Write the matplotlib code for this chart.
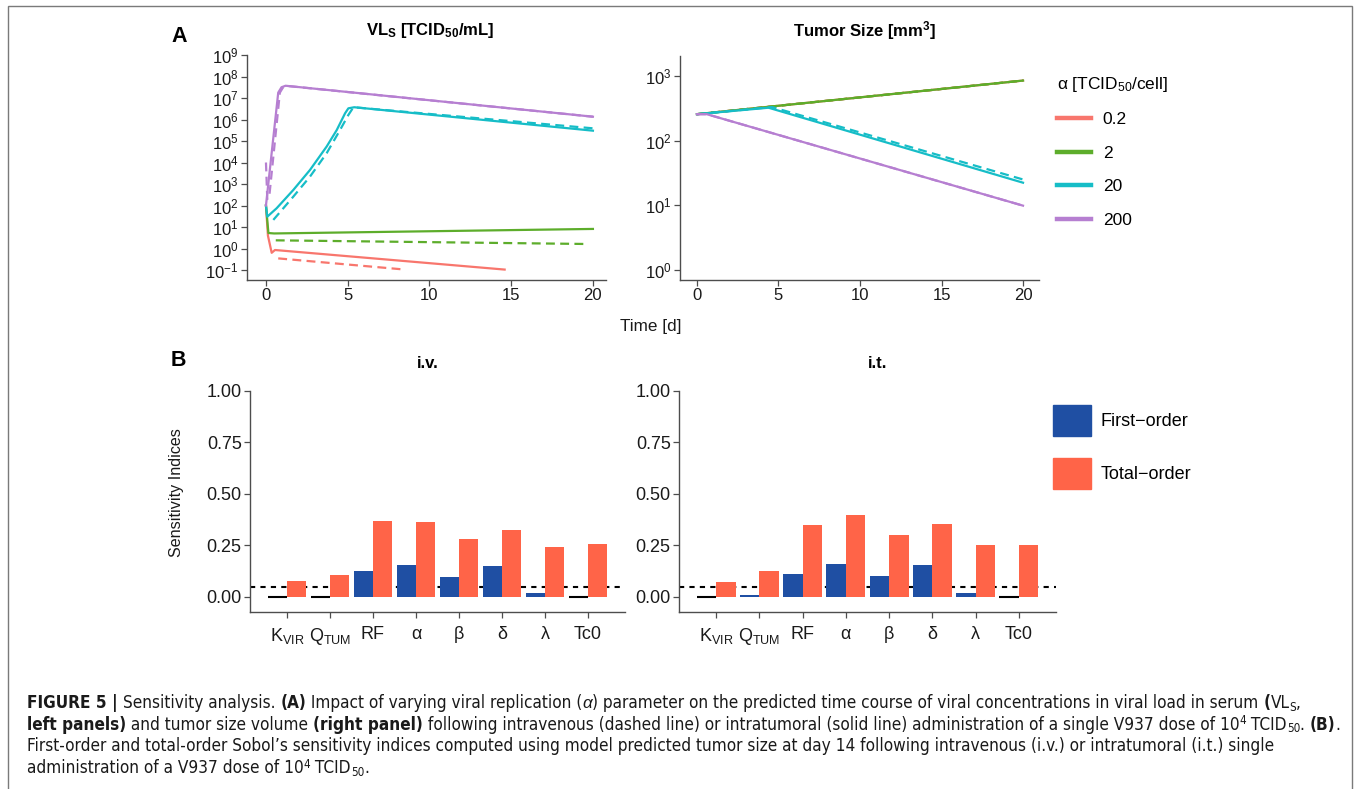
import numpy as np
import matplotlib
matplotlib.use("Agg")
import matplotlib.pyplot as plt
from matplotlib import font_manager
from matplotlib.font_manager import FontProperties
from matplotlib.lines import Line2D
from matplotlib.patches import Patch, Rectangle

W, H = 1356, 789

# ---- panel A data, values as log10 ----
alpha_labels = ["0.2", "2", "20", "200"]
colors = ["#F8766D", "#5DAD2B", "#16BDC7", "#B67FD1"]

# viral load in serum, solid = i.t., dashed = i.v.
vl_it_t = [
    [0, 0.12, 0.35, 0.55, 14.6],
    [0, 0.15, 0.5, 20],
    [0, 0.08, 0.65, 1.67, 2.69, 3.71, 4.33, 4.84, 5.04, 5.4, 20],
    [0, 0.75, 0.95, 1.2, 20],
]
vl_it_log = [
    [2.0, 0.6, -0.2, -0.07, -0.98],
    [2.0, 0.72, 0.70, 0.91],
    [2.0, 1.48, 1.87, 2.72, 3.65, 4.74, 5.51, 6.29, 6.52, 6.57, 5.48],
    [2.0, 7.25, 7.5, 7.57, 6.13],
]
vl_iv_t = [
    [0.75, 8.5],
    [0.6, 19.6],
    [0.45, 1.67, 2.69, 3.71, 4.53, 5.04, 5.35, 20],
    [0, 0.08, 0.2, 0.85, 1.05, 1.3, 20],
]
vl_iv_log = [
    [-0.46, -0.98],
    [0.38, 0.21],
    [1.33, 2.41, 3.34, 4.43, 5.51, 6.21, 6.57, 5.59],
    [4.0, 2.3, 2.4, 7.25, 7.5, 7.56, 6.13],
]

# tumor size, solid = i.t., dashed = i.v.
ts_it_t = [
    [0, 20],
    [0, 20],
    [0, 4.39, 20],
    [0, 0.6, 20],
]
ts_it_log = [
    [2.41, 2.93],
    [2.41, 2.93],
    [2.41, 2.51, 1.35],
    [2.41, 2.41, 0.995],
]
ts_iv_t = [
    [0, 20],
    [0, 20],
    [0, 4.6, 20],
    [0, 0.6, 20],
]
ts_iv_log = [
    [2.41, 2.93],
    [2.41, 2.93],
    [2.41, 2.52, 1.40],
    [2.41, 2.41, 0.995],
]

# ---- panel B data ----
params = [r"K$_\mathrm{VIR}$", r"Q$_\mathrm{TUM}$", "RF", "α", "β", "δ", "λ", "Tc0"]
iv_first = [0, 0, 0.127, 0.156, 0.095, 0.148, 0.021, 0]
iv_total = [0.077, 0.108, 0.369, 0.366, 0.282, 0.327, 0.244, 0.255]
it_first = [0, 0.01, 0.113, 0.16, 0.10, 0.156, 0.018, 0]
it_total = [0.071, 0.127, 0.35, 0.40, 0.30, 0.353, 0.253, 0.25]
threshold = 0.05

BLUE = "#1F4FA3"
ORANGE = "#FF6448"
AXC = "#4D4D4D"
TXT = "#1A1A1A"

plt.rcParams["font.family"] = ["Liberation Sans", "DejaVu Sans"]
plt.rcParams["mathtext.fontset"] = "custom"
plt.rcParams["mathtext.rm"] = "Liberation Sans"
plt.rcParams["mathtext.it"] = "Liberation Sans:italic"
plt.rcParams["mathtext.bf"] = "Liberation Sans:bold"
plt.rcParams["axes.unicode_minus"] = False


# pick a narrow font for the caption if one is installed
def caption_fonts():
    entries = font_manager.fontManager.ttflist
    narrow = {"condensed", "semi-condensed", "extra-condensed"}
    for e in entries:
        tag = e.name.lower()
        is_narrow = ("narrow" in tag or "condensed" in tag or str(e.stretch) in narrow)
        if is_narrow and e.style == "normal" and e.weight in (400, "normal", "regular"):
            fam = [x for x in entries if x.name == e.name and x.stretch == e.stretch]
            bold = [x for x in fam if x.style == "normal" and x.weight in (700, "bold")]
            ital = [x for x in fam if x.style == "italic" and x.weight in (400, "normal", "regular")]
            return {"n": e.fname,
                    "b": bold[0].fname if bold else e.fname,
                    "i": ital[0].fname if ital else None}
    return None


cap_files = caption_fonts()


def cap_prop(st, size):
    if cap_files is not None and cap_files.get(st if st in ("b", "i") else "n"):
        key = st if st in ("b", "i") else "n"
        return FontProperties(fname=cap_files[key], size=size)
    p = FontProperties(family="Liberation Sans", size=size)
    if st == "b":
        p.set_weight("bold")
    elif st == "i":
        p.set_style("italic")
    return p


def rect(l, t, r, b):
    return [l / W, 1 - b / H, (r - l) / W, (b - t) / H]


def fx(px):
    return px / W


def fy(py):
    return 1 - py / H


def style_axes(ax, size):
    for s in ["top", "right"]:
        ax.spines[s].set_visible(False)
    for s in ["left", "bottom"]:
        ax.spines[s].set_color(AXC)
        ax.spines[s].set_linewidth(1.0)
    ax.tick_params(axis="both", which="major", direction="out", length=4,
                   width=0.9, color=AXC, labelsize=size, labelcolor=TXT, pad=2)
    ax.tick_params(which="minor", left=False, bottom=False)
    ax.set_facecolor("none")


fig = plt.figure(figsize=(W / 100, H / 100), dpi=100)

# ---------- A: viral load ----------
ax1 = fig.add_axes(rect(247, 55, 606, 280))
for i in range(4):
    ax1.plot(vl_iv_t[i], 10 ** np.array(vl_iv_log[i]), color=colors[i], lw=1.6,
             dashes=(4, 2.4))
    ax1.plot(vl_it_t[i], 10 ** np.array(vl_it_log[i]), color=colors[i], lw=1.6)
ax1.set_yscale("log")
ax1.set_ylim(10 ** -1.465, 10 ** 9.0)
ax1.set_xlim(-1.16, 20.8)
ax1.set_yticks([10.0 ** k for k in range(-1, 10)])
ax1.set_xticks([0, 5, 10, 15, 20])
style_axes(ax1, 12)

# ---------- A: tumor size ----------
ax2 = fig.add_axes(rect(680, 56, 1039, 280))
handles = []
for i in range(4):
    ax2.plot(ts_iv_t[i], 10 ** np.array(ts_iv_log[i]), color=colors[i], lw=1.6,
             dashes=(4, 2.4))
    ax2.plot(ts_it_t[i], 10 ** np.array(ts_it_log[i]), color=colors[i], lw=1.6)
    handles.append(Line2D([], [], color=colors[i], lw=3.2))
ax2.set_yscale("log")
ax2.set_ylim(10 ** -0.155, 10 ** 3.31)
ax2.set_xlim(-1.04, 20.98)
ax2.set_yticks([1, 10, 100, 1000])
ax2.set_xticks([0, 5, 10, 15, 20])
style_axes(ax2, 12)

fig.legend(handles, alpha_labels, title="α [TCID$_\\mathrm{50}$/cell]",
           loc="upper left", bbox_to_anchor=(fx(1048), fy(66)),
           frameon=False, fontsize=12.5, title_fontsize=12.5,
           handlelength=1.95, handletextpad=0.7, labelspacing=1.06,
           borderpad=0, alignment="left")

fig.text(fx(179), fy(36), "A", fontsize=15.5, fontweight="bold", ha="center", va="center")
fig.text(fx(430), fy(31), r"VL$_\mathbf{S}$ [TCID$_\mathbf{50}$/mL]", fontsize=12,
         fontweight="bold", ha="center", va="center")
fig.text(fx(865), fy(31), r"Tumor Size [mm$^\mathbf{3}$]", fontsize=12,
         fontweight="bold", ha="center", va="center")
fig.text(fx(651), fy(327), "Time [d]", fontsize=12.3, ha="center", va="center", color=TXT)

# ---------- B: sensitivity bars ----------
x = np.arange(1, len(params) + 1)
bw = 0.45
for l, r, first, total, title, tx in [
    (250, 625, iv_first, iv_total, "i.v.", 428),
    (679, 1056, it_first, it_total, "i.t.", 878),
]:
    ax = fig.add_axes(rect(l, 391, r, 612))
    f = np.array(first)
    ax.bar(x - bw / 2, f, width=bw, color=BLUE, zorder=2)
    ax.bar(x + bw / 2, total, width=bw, color=ORANGE, zorder=2)
    zero = f == 0
    ax.hlines(np.zeros(zero.sum()), x[zero] - bw, x[zero], color="black", lw=1.5, zorder=3)
    ax.axhline(threshold, color="black", lw=1.5, ls=(0, (2.5, 2.5)), zorder=1)
    ax.set_xlim(0.14, 8.86)
    ax.set_ylim(-0.073, 1.0)
    ax.set_yticks([0, 0.25, 0.5, 0.75, 1.0])
    ax.set_yticklabels(["0.00", "0.25", "0.50", "0.75", "1.00"])
    ax.set_xticks(x)
    ax.set_xticklabels(params)
    style_axes(ax, 13)
    ax.tick_params(axis="x", pad=6)
    fig.text(fx(tx), fy(363), title, fontsize=12, fontweight="bold", ha="center", va="center")

fig.text(fx(177), fy(493), "Sensitivity Indices", fontsize=11.6, rotation=90,
         ha="center", va="center", color=TXT)
fig.text(fx(178), fy(361), "B", fontsize=15.5, fontweight="bold", ha="center", va="center")

fig.legend([Patch(color=BLUE), Patch(color=ORANGE)], ["First−order", "Total−order"],
           loc="upper left", bbox_to_anchor=(fx(1044), fy(396)), frameon=False,
           fontsize=13, handlelength=2.1, handleheight=2.26, handletextpad=0.55,
           labelspacing=1.22, borderpad=0)

# ---------- caption ----------
renderer = fig.canvas.get_renderer()


def text_width(s, prop):
    t1 = fig.text(0, 0, s + "|", fontproperties=prop)
    w1 = t1.get_window_extent(renderer).width
    t1.remove()
    t2 = fig.text(0, 0, "|", fontproperties=prop)
    w2 = t2.get_window_extent(renderer).width
    t2.remove()
    return w1 - w2


def run_props(st, size):
    if st in ("sup", "sub"):
        return cap_prop("n", size * 0.68)
    return cap_prop(st, size)


def line_width(runs, size):
    return sum(text_width(s, run_props(st, size)) for s, st in runs)


def caption_line(xpx, ypx, runs, size):
    xp = xpx
    for s, st in runs:
        prop = run_props(st, size)
        dy = 0
        if st == "sup":
            dy = -0.45 * size
        elif st == "sub":
            dy = 0.22 * size
        fig.text(fx(xp), fy(ypx + dy), s, va="baseline", ha="left",
                 fontproperties=prop, color=TXT)
        xp += text_width(s, prop)


cap_lines = [
    [("FIGURE 5 | ", "b"), ("Sensitivity analysis. ", "n"), ("(A)", "b"),
     (" Impact of varying viral replication (", "n"), ("α", "i"),
     (") parameter on the predicted time course of viral concentrations in viral load in serum ", "n"),
     ("(", "b"), ("VL", "n"), ("S", "sub"), (",", "n")],
    [("left panels)", "b"), (" and tumor size volume ", "n"), ("(right panel)", "b"),
     (" following intravenous (dashed line) or intratumoral (solid line) administration of a single V937 dose of 10", "n"),
     ("4", "sup"), (" TCID", "n"), ("50", "sub"), (". ", "n"), ("(B)", "b"), (".", "n")],
    [("First-order and total-order Sobol’s sensitivity indices computed using model predicted tumor size at day 14 following intravenous (i.v.) or intratumoral (i.t.) single", "n")],
    [("administration of a V937 dose of 10", "n"), ("4", "sup"), (" TCID", "n"),
     ("50", "sub"), (".", "n")],
]
# scale the caption so the longest line spans the same width as in the figure
cap_size = 10.0 * 1313.0 / line_width(cap_lines[1], 10.0)
cap_size = min(cap_size, 13.0)
for k, runs in enumerate(cap_lines):
    caption_line(27, 708 + k * 21.7, runs, cap_size)

fig.patches.append(Rectangle((fx(8), fy(800)), fx(1352) - fx(8), fy(6) - fy(800),
                             transform=fig.transFigure, fill=False, edgecolor="#7A7A7A",
                             lw=1.0, clip_on=False))

fig.savefig("out.png", dpi=100)
